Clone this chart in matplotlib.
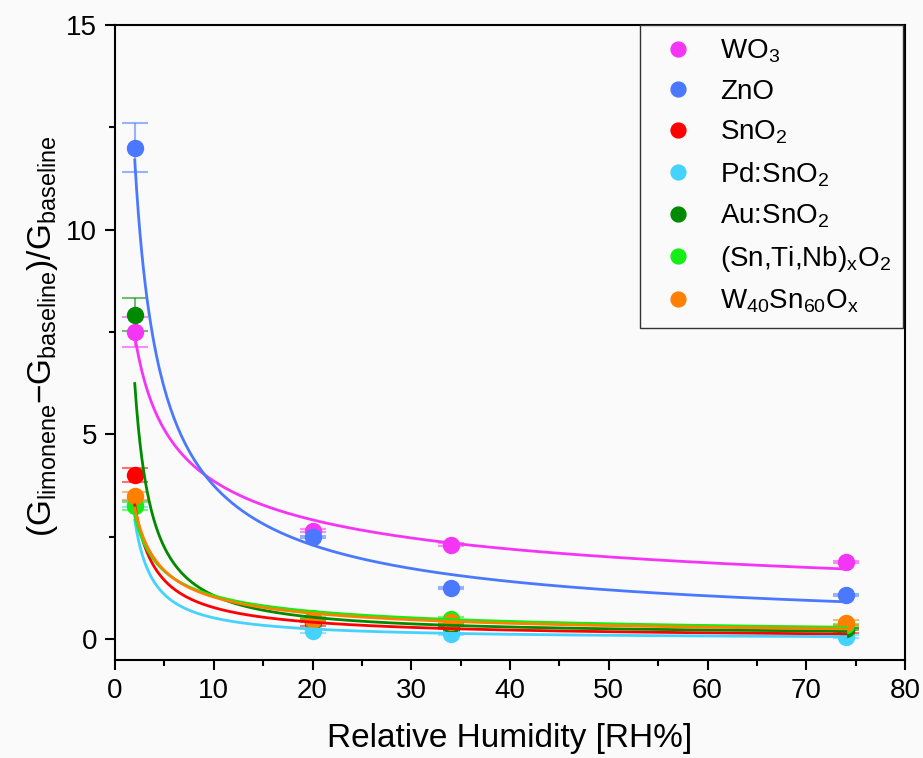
"""Limonene response vs relative humidity for several metal-oxide sensors."""
import numpy as np
import matplotlib
matplotlib.use("Agg")
import matplotlib.pyplot as plt
from matplotlib.ticker import MultipleLocator

plt.rcParams["font.family"] = ["Liberation Sans", "DejaVu Sans"]
plt.rcParams["mathtext.fontset"] = "custom"
plt.rcParams["mathtext.rm"] = "Liberation Sans"
plt.rcParams["mathtext.it"] = "Liberation Sans"

rh = [2, 20, 34, 74]
wo3 = [7.5, 2.65, 2.31, 1.88]
zno = [12.0, 2.5, 1.25, 1.08]
sno2 = [4.0, 0.39, 0.28, 0.2]
pd_sno2 = [3.3, 0.2, 0.12, 0.06]
au_sno2 = [7.92, 0.45, 0.35, 0.25]
stn_o2 = [3.26, 0.52, 0.5, 0.35]
w40sn60 = [3.5, 0.47, 0.43, 0.4]

wo3_err = [0.37, 0.03, 0.03, 0.03]
zno_err = [0.6, 0.03, 0.03, 0.03]
sno2_err = [0.17, 0.08, 0.04, 0.06]
pd_sno2_err = [0.08, 0.04, 0.03, 0.03]
au_sno2_err = [0.4, 0.03, 0.03, 0.03]
stn_o2_err = [0.1, 0.03, 0.03, 0.03]
w40sn60_err = [0.1, 0.03, 0.03, 0.06]

labels = ["WO$_3$", "ZnO", "SnO$_2$", "Pd:SnO$_2$", "Au:SnO$_2$",
          "(Sn,Ti,Nb)$_\\mathrm{x}$O$_2$", "W$_{40}$Sn$_{60}$O$_\\mathrm{x}$"]
colors = ["#f535f5", "#4a78ff", "#ff0000", "#45d2ff", "#008a00", "#14ee14", "#ff8000"]

# allometric fit y = a*x^b + c, parameters estimated from the drawn curves
fit_a = [9.83, 19.1, 6.12, 6.1, 13.63, 4.7, 5.22]
fit_b = [-0.406, -0.707, -0.9, -1.07, -1.15, -0.647, -0.706]
fit_c = [0.0, 0.0, 0.0, 0.0, 0.1, 0.0, 0.0]

series = [wo3, zno, sno2, pd_sno2, au_sno2, stn_o2, w40sn60]
errors = [wo3_err, zno_err, sno2_err, pd_sno2_err, au_sno2_err, stn_o2_err, w40sn60_err]

fig = plt.figure(figsize=(9.23, 7.58), dpi=100, facecolor="#fafafa")
ax = fig.add_axes([0.1246, 0.1293, 0.8559, 0.8377])
ax.set_facecolor("#fafafa")

x_fit = np.linspace(min(rh), max(rh), 400)
handles = []
for i, (ys, es) in enumerate(zip(series, errors)):
    ax.errorbar(rh, ys, yerr=es, fmt="none", ecolor=colors[i], alpha=0.55,
                elinewidth=1.5, capsize=9.5, capthick=1.5, zorder=2 + i * 0.1)
    h, = ax.plot(rh, ys, "o", color=colors[i], markersize=11.5, label=labels[i],
                 linestyle="none", zorder=3 + i * 0.1)
    handles.append(h)

for i in range(len(series)):
    ax.plot(x_fit, fit_a[i] * x_fit ** fit_b[i] + fit_c[i], color=colors[i],
            linewidth=2.0, zorder=4 + i * 0.1)

ax.set_xlim(0, 80)
ax.set_ylim(-0.51, 15)
ax.xaxis.set_major_locator(MultipleLocator(10))
ax.xaxis.set_minor_locator(MultipleLocator(5))
ax.yaxis.set_major_locator(MultipleLocator(5))
ax.yaxis.set_minor_locator(MultipleLocator(2.5))
ax.tick_params(which="major", direction="out", length=7, width=1.5, labelsize=20, pad=6)
ax.tick_params(which="minor", direction="out", length=4, width=1.5)
for s in ax.spines.values():
    s.set_linewidth(1.5)

ax.set_xlabel("Relative Humidity [RH%]", fontsize=24, labelpad=14)
ax.set_ylabel("(G$_\\mathrm{limonene}$\u2212G$_\\mathrm{baseline}$)/G$_\\mathrm{baseline}$",
              fontsize=24)
ax.yaxis.set_label_coords(-0.07, 0.51)

leg = ax.legend(handles=handles, loc="upper right", bbox_to_anchor=(0.9975, 1.0),
                borderaxespad=0, fontsize=20, frameon=True, fancybox=False,
                handlelength=1.83, handletextpad=0.6, labelspacing=0.5,
                borderpad=0.45, markerscale=0.93)
leg.get_frame().set_edgecolor("#333333")
leg.get_frame().set_linewidth(1.0)
leg.get_frame().set_facecolor("#fafafa")
leg.get_frame().set_alpha(1)

fig.savefig("out.png", dpi=100, facecolor=fig.get_facecolor())
